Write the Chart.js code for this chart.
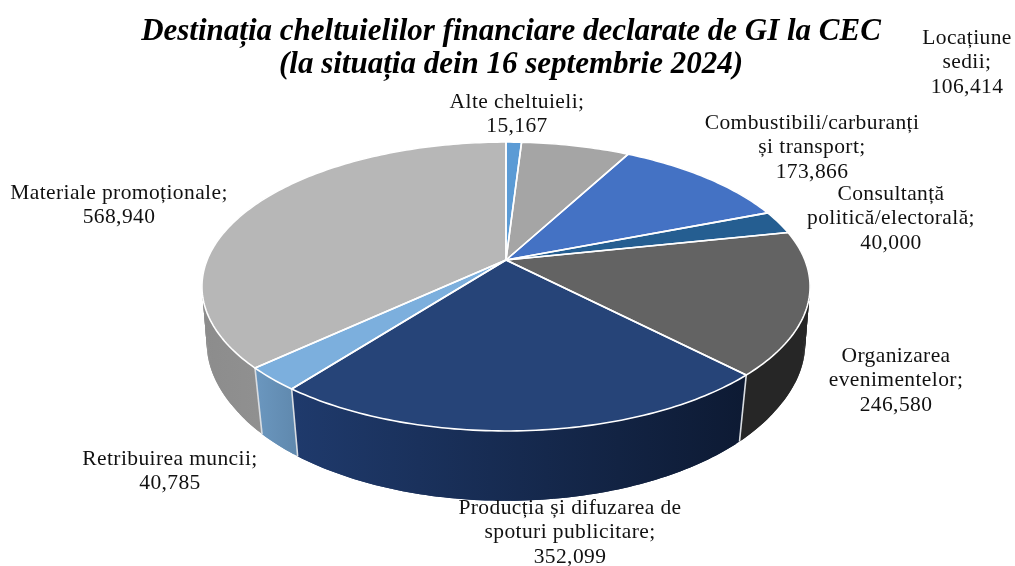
<!DOCTYPE html>
<html>
<head>
<meta charset="utf-8">
<script src="https://cdn.jsdelivr.net/npm/chart.js@4"></script>
<style>
html,body{margin:0;padding:0;background:#fff;overflow:hidden;width:1015px;height:566px}
#box{position:relative;width:1022px;height:566px}
canvas{display:block}
</style>
</head>
<body>
<div id="box"><canvas id="c" width="1022" height="566"></canvas></div>
<script>
const titleLines = ['Destinația cheltuielilor financiare declarate de GI la CEC', '(la situația dein 16 septembrie 2024)'];
const categories = [
  ['Alte cheltuieli;'],
  ['Locațiune', 'sedii;'],
  ['Combustibili/carburanți', 'și transport;'],
  ['Consultanță', 'politică/electorală;'],
  ['Organizarea', 'evenimentelor;'],
  ['Producția și difuzarea de', 'spoturi publicitare;'],
  ['Retribuirea muncii;'],
  ['Materiale promoționale;']
];
const values = [15167, 106414, 173866, 40000, 246580, 352099, 40785, 568940];
const topColors = ['#5b9bd5', '#a5a5a5', '#4472c4', '#255e91', '#636363', '#264478', '#7cafdd', '#b7b7b7'];
const wallLeft  = ['#4d84b5', '#8c8c8c', '#3a61a7', '#1f507b', '#262626', '#1f3a6c', '#6b97bf', '#8c8c8c'];
const wallRight = ['#4d84b5', '#8c8c8c', '#3a61a7', '#1f507b', '#262626', '#0d1a33', '#5f88ad', '#a2a2a2'];
const labelCenterX = [517, 967, 812, 891, 896, 570, 170, 119];
const labelCenterY = [101, 37, 122, 193, 355, 507, 458, 192];

// Projection of the flat pie onto the screen (perspective view of the disc)
const view = {cx: 506, cy: 260, a: 298.9, b: 139.6, k: 0.1834, wallY0: 433, wallYRef: 367, wallSlope: 1.06};
function topPoint(angle) {
  const u = Math.cos(angle), v = -Math.sin(angle), d = 1 + view.k * v;
  return [view.cx + view.a * u / d, view.cy - view.b * v / d];
}
function lowPoint(angle) {
  const p = topPoint(angle), v = -Math.sin(angle);
  const t = Math.min(1, Math.max(0, (v + 0.55) / 0.37));
  const s = 0.972 + 0.012 * t;
  return [view.cx + s * (p[0] - view.cx), view.wallY0 + view.wallSlope * (p[1] - view.wallYRef)];
}
function arcAngles(a0, a1) {
  const n = Math.max(2, Math.ceil((a1 - a0) / (Math.PI / 180)));
  const out = [];
  for (let i = 0; i <= n; i++) out.push(a0 + (a1 - a0) * i / n);
  return out;
}

const pie3d = {
  id: 'pie3d',
  beforeDatasetsDraw(chart) {
    const ctx = chart.ctx;
    const arcs = chart.getDatasetMeta(0).data;
    ctx.save();
    ctx.lineJoin = 'round';
    // walls: painted strip by strip, so the fold at the silhouette stays filled
    arcs.forEach((el, i) => {
      const angles = arcAngles(el.startAngle, el.endAngle);
      const pts = angles.map(topPoint), low = angles.map(lowPoint);
      const xs = pts.concat(low).map(p => p[0]);
      const g = ctx.createLinearGradient(Math.min(...xs), 0, Math.max(...xs), 0);
      g.addColorStop(0, wallLeft[i]);
      g.addColorStop(1, wallRight[i]);
      ctx.fillStyle = g;
      for (let j = 0; j < pts.length - 1; j++) {
        const e = Math.min(j + 2, pts.length - 1);
        ctx.beginPath();
        ctx.moveTo(pts[j][0], pts[j][1]);
        for (let m = j + 1; m <= e; m++) ctx.lineTo(pts[m][0], pts[m][1]);
        for (let m = e; m >= j; m--) ctx.lineTo(low[m][0], low[m][1]);
        ctx.closePath();
        ctx.fill();
      }
    });
    // wall joints
    ctx.strokeStyle = '#d9dde2';
    ctx.lineWidth = 1.6;
    arcs.forEach(el => {
      const a = el.startAngle, p = topPoint(a), q = lowPoint(a);
      if (Math.sin(a) > 0) {
        ctx.beginPath(); ctx.moveTo(p[0], p[1]); ctx.lineTo(q[0], q[1]); ctx.stroke();
      }
    });
    // top face
    arcs.forEach(el => {
      ctx.beginPath();
      ctx.moveTo(view.cx, view.cy);
      arcAngles(el.startAngle, el.endAngle).map(topPoint).forEach(p => ctx.lineTo(p[0], p[1]));
      ctx.closePath();
      ctx.fillStyle = el.options.backgroundColor;
      ctx.fill();
    });
    arcs.forEach(el => {
      ctx.beginPath();
      ctx.moveTo(view.cx, view.cy);
      arcAngles(el.startAngle, el.endAngle).map(topPoint).forEach(p => ctx.lineTo(p[0], p[1]));
      ctx.closePath();
      ctx.strokeStyle = el.options.borderColor;
      ctx.lineWidth = el.options.borderWidth;
      ctx.stroke();
    });
    ctx.restore();
    return false;
  },
  afterDraw(chart) {
    const ctx = chart.ctx;
    ctx.save();
    ctx.fillStyle = '#111';
    ctx.font = '21.5px "Liberation Serif"';
    ctx.letterSpacing = '0.4px';
    ctx.textAlign = 'center';
    ctx.textBaseline = 'middle';
    categories.forEach((lines, i) => {
      const all = lines.concat(values[i].toLocaleString('en-US'));
      all.forEach((t, j) => ctx.fillText(t, labelCenterX[i], labelCenterY[i] + 1 + j * 24.7));
    });
    ctx.restore();
  }
};

new Chart(document.getElementById('c'), {
  type: 'pie',
  data: {
    labels: categories,
    datasets: [{data: values, backgroundColor: topColors, borderColor: '#ffffff', borderWidth: 1.6}]
  },
  options: {
    responsive: false,
    animation: false,
    layout: {padding: 0},
    plugins: {
      legend: {display: false},
      tooltip: {enabled: false},
      title: {
        display: true,
        text: titleLines,
        color: '#000',
        font: {family: '"Liberation Serif"', size: 31, weight: 'bold', style: 'italic', lineHeight: 1.07},
        padding: {top: 15, bottom: 0}
      }
    }
  },
  plugins: [pie3d]
});
</script>
</body>
</html>
